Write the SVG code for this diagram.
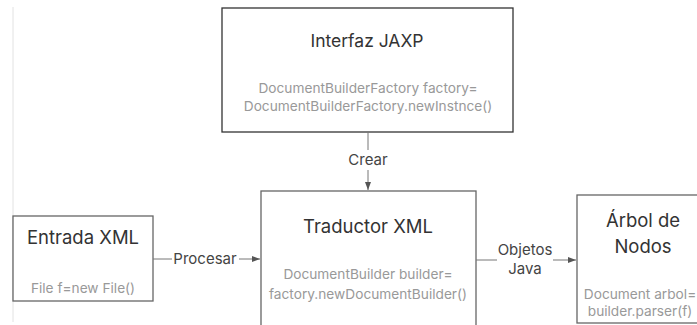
<svg xmlns="http://www.w3.org/2000/svg" width="697" height="325" viewBox="0 0 697 325">
<defs>
<marker id="arr" markerWidth="8" markerHeight="6" refX="8" refY="3" orient="auto" markerUnits="userSpaceOnUse">
<path d="M0,0 L8,3 L0,6 Z" fill="#555"/>
</marker>
<style>
.box{fill:#fff;stroke:#666;stroke-width:1.3}
.title{font-family:Inter,"Liberation Sans",sans-serif;font-size:18.5px;fill:#333;text-anchor:middle}
.code{font-family:Inter,"Liberation Sans",sans-serif;font-size:13.7px;fill:#999;text-anchor:middle}
.lbl{font-family:Inter,"Liberation Sans",sans-serif;font-size:15px;fill:#444;text-anchor:middle}
.con{stroke:#777;stroke-width:1;fill:none}
</style>
</defs>
<rect width="697" height="325" fill="#fff"/>
<line x1="13" y1="7" x2="13" y2="322" stroke="#e2e2e2" stroke-width="1"/>
<g id="jaxp">
<rect class="box" x="222" y="8" width="291" height="124" style="stroke:#333"/>
<text class="title" x="367" y="47" style="font-size:17.5px">Interfaz JAXP</text>
<text class="code" x="368" y="93">DocumentBuilderFactory factory=</text>
<text class="code" x="368" y="111">DocumentBuilderFactory.newInstnce()</text>
</g>
<g id="entrada">
<rect class="box" x="13" y="216" width="140" height="85"/>
<text class="title" x="83" y="244">Entrada XML</text>
<text class="code" x="83" y="293">File f=new File()</text>
</g>
<g id="traductor">
<rect class="box" x="261" y="191" width="215" height="140"/>
<text class="title" x="368" y="233">Traductor XML</text>
<text class="code" x="368" y="279">DocumentBuilder builder=</text>
<text class="code" x="368" y="299">factory.newDocumentBuilder()</text>
</g>
<g id="arbol">
<rect class="box" x="577" y="195" width="130" height="128"/>
<text class="title" x="643" y="227">Árbol de</text>
<text class="title" x="643" y="253">Nodos</text>
<text class="code" x="640" y="299">Document arbol=</text>
<text class="code" x="640" y="316">builder.parser(f)</text>
</g>
<g id="connectors">
<path class="con" d="M368,132 V150"/>
<path class="con" d="M368,170 V190" marker-end="url(#arr)"/>
<text class="lbl" x="368" y="165">Crear</text>
<path class="con" d="M153,259 H172"/>
<path class="con" d="M239,259 H260" marker-end="url(#arr)"/>
<text class="lbl" x="205" y="264">Procesar</text>
<path class="con" d="M476,260 H497"/>
<path class="con" d="M553,260 H576" marker-end="url(#arr)"/>
<text class="lbl" x="525" y="255">Objetos</text>
<text class="lbl" x="525" y="274">Java</text>
</g>
</svg>
